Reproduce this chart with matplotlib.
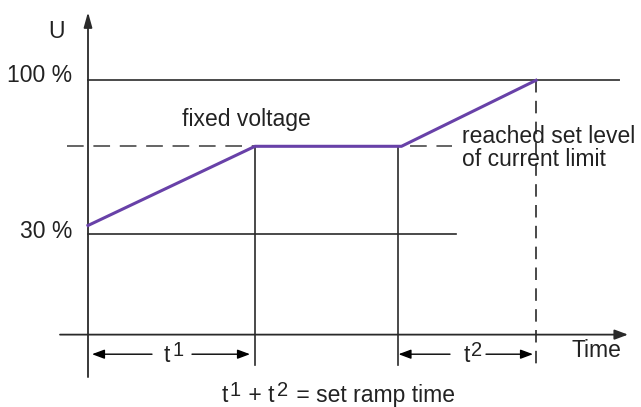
import matplotlib
matplotlib.use("Agg")
import matplotlib.pyplot as plt

plt.rcParams['font.family'] = ['Liberation Sans', 'DejaVu Sans']
plt.rcParams['lines.scale_dashes'] = False

# ---- data (schematic, time in arbitrary units, voltage in %) ----
ramp_time = [0.0, 16.7, 31.35, 44.8]      # start, fixed start, fixed end, end
ramp_volt = [34.0, 70.0, 70.0, 100.0]     # voltage along ramp (%)
level_full = 100.0
level_fixed = 70.0
level_low = 30.0
t_fixed_start = 16.7
t_fixed_end = 30.95
t_end = 44.8
level_labels = ["100 %", "30 %"]

PURPLE = '#6841a8'
DARK = '#2a2a2a'
GRAY = '#4a4a4a'
TXT = '#222222'
FS = 16.5
FS_SUP = 14.5

fig = plt.figure(figsize=(6.41, 4.07), dpi=100)
ax = fig.add_axes([0, 0, 1, 1])
ax.set_xlim(-8.8, 55.3)
ax.set_ylim(-48.5, 136.5)
ax.axis('off')

x_axis_U = -15.6
y_bottom = -29.4
arrow_U = -24.5

# axes with arrows
ax.annotate('', xy=(54.0, x_axis_U), xytext=(-2.8, x_axis_U),
            arrowprops=dict(arrowstyle='-|>,head_length=0.8,head_width=0.3',
                            color=DARK, lw=1.3, shrinkA=0, shrinkB=0))
ax.annotate('', xy=(0, 131.0), xytext=(0, -34.9),
            arrowprops=dict(arrowstyle='-|>,head_length=0.9,head_width=0.25',
                            color=DARK, lw=1.3, shrinkA=0, shrinkB=0))

# reference levels
ax.plot([0, 53.1], [level_full, level_full], color=GRAY, lw=1.4)
ax.plot([0, 36.8], [level_low, level_low], color=DARK, lw=1.2)
ax.plot([-2.1, 36.4], [level_fixed, level_fixed], color=GRAY, lw=1.2,
        dashes=(12, 7))

# vertical markers
ax.plot([t_fixed_start, t_fixed_start], [level_fixed, y_bottom], color=DARK, lw=1.2)
ax.plot([t_fixed_end, t_fixed_end], [level_fixed, y_bottom], color=DARK, lw=1.2)
ax.plot([t_end, t_end], [level_full, y_bottom], color=DARK, lw=1.2,
        dashes=(9, 6))

# ramp
ax.plot(ramp_time, ramp_volt, color=PURPLE, lw=2.2, solid_joinstyle='miter',
        zorder=5)

# time arrows (split around the label)
arrow_style = dict(arrowstyle='-|>,head_length=0.75,head_width=0.28',
                   color='black', lw=1.0, shrinkA=0, shrinkB=0)


def span_arrow(t0, t1, gap0, gap1):
    ax.annotate('', xy=(t0, arrow_U), xytext=(gap0, arrow_U), arrowprops=arrow_style)
    ax.annotate('', xy=(t1, arrow_U), xytext=(gap1, arrow_U), arrowprops=arrow_style)


span_arrow(0.4, t_fixed_start - 0.5, 6.4, 10.4)
span_arrow(t_fixed_end + 0.1, t_end - 0.3, 36.2, 39.8)


def sup_label(x, y, base, sup):
    t1 = ax.text(x, y, base, fontsize=FS, ha='right', va='baseline', color=TXT)
    ax.annotate(sup, xy=(1, y), xycoords=(t1, 'data'),
                xytext=(1.5, 5.5), textcoords='offset pixels',
                fontsize=FS_SUP, ha='left', va='baseline', color=TXT)


base_U = -27.9
sup_label((0 + t_fixed_start) / 2 - 0.1, base_U, 't', '1')
sup_label((t_fixed_end + t_end) / 2 + 0.3, base_U, 't', '2')

# caption  t1 + t2 = set ramp time
cap_U = -48.5 + 5.0 / 2.2
pieces = [('t', FS, 0), ('1', FS_SUP, 5.5), (' + t', FS, 0), ('2', FS_SUP, 5.5),
          (' = set ramp time', FS, 0)]
prev = ax.text(13.35, cap_U, pieces[0][0], fontsize=FS, ha='left',
               va='baseline', color=TXT)
for txt, fs, rise in pieces[1:]:
    gap = 2.0 if rise else 1.5
    prev = ax.annotate(txt, xy=(1, cap_U), xycoords=(prev, 'data'),
                       xytext=(gap, rise), textcoords='offset pixels',
                       fontsize=fs, ha='left', va='baseline', color=TXT)

# labels
ax.text(-3.2, 122.0, 'U', fontsize=FS, ha='center', va='center', color=TXT)
ax.text(-1.6, 102.3, level_labels[0], fontsize=FS, ha='right', va='center', color=TXT)
ax.text(-1.6, 31.5, level_labels[1], fontsize=FS, ha='right', va='center', color=TXT)
ax.text(9.4, 79.2, 'fixed voltage', fontsize=FS, ha='left', va='baseline', color=TXT)
ax.text(37.4, 71.6, 'reached set level', fontsize=FS, ha='left', va='baseline', color=TXT)
ax.text(37.4, 61.0, 'of current limit', fontsize=FS, ha='left', va='baseline', color=TXT)
ax.text(48.3, -25.8, 'Time', fontsize=FS, ha='left', va='baseline', color=TXT)

fig.savefig('out.png', dpi=100)
